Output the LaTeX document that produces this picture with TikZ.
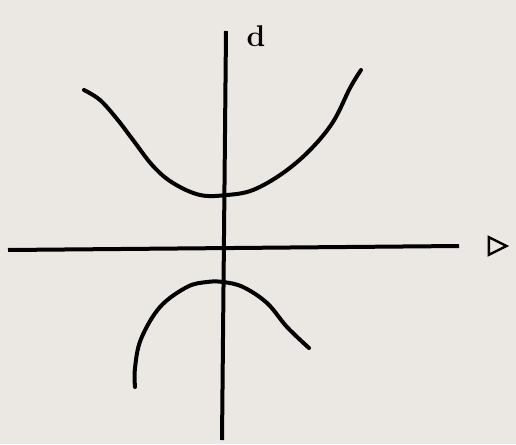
\documentclass[tikz,border=0pt]{standalone}
\usepackage{fontspec}
\newfontfamily\symfont[AutoFakeBold=4]{DejaVu Sans}
\usetikzlibrary{calc,positioning}
\definecolor{paper}{RGB}{235,232,228}
\tikzset{
  pen/.style={line width=4pt,line cap=round,line join=round},
  axlabel/.style={inner sep=0pt,font=\fontsize{30}{30}\selectfont\bfseries}
}
\begin{document}
\begin{tikzpicture}[x=1pt,y=-1pt]
  \fill[paper] (0,0) rectangle (516,444);
  \useasboundingbox (0,0) rectangle (516,444);
  % axes
  \coordinate (ytop) at (226,31);
  \coordinate (ybot) at (222,440);
  \coordinate (xleft) at (8,250);
  \coordinate (xright) at (459,246);
  \draw[pen,line cap=butt] (ytop) -- (ybot);
  \draw[pen,line cap=butt] (xleft) -- (xright);
  \node[axlabel] (dlab) at (256,36) {d};
  \node[axlabel,font=\symfont\fontsize{26}{26}\selectfont\bfseries] (alab) at (498,246) {▷};
  % upper branch
  \draw[pen] plot[smooth,tension=0.6] coordinates {(84,90) (100,100) (117,119) (133,140) (153,166)
    (173,183) (200,195) (227,195) (253,190) (283,173) (310,150) (333,122) (350,88) (361,70)};
  % lower branch
  \draw[pen] plot[smooth,tension=0.6] coordinates {(135,387) (135,368) (141,339) (160,307) (187,287)
    (207,282) (223,282) (243,287) (267,303) (287,327) (309,348)};
\end{tikzpicture}
\end{document}
